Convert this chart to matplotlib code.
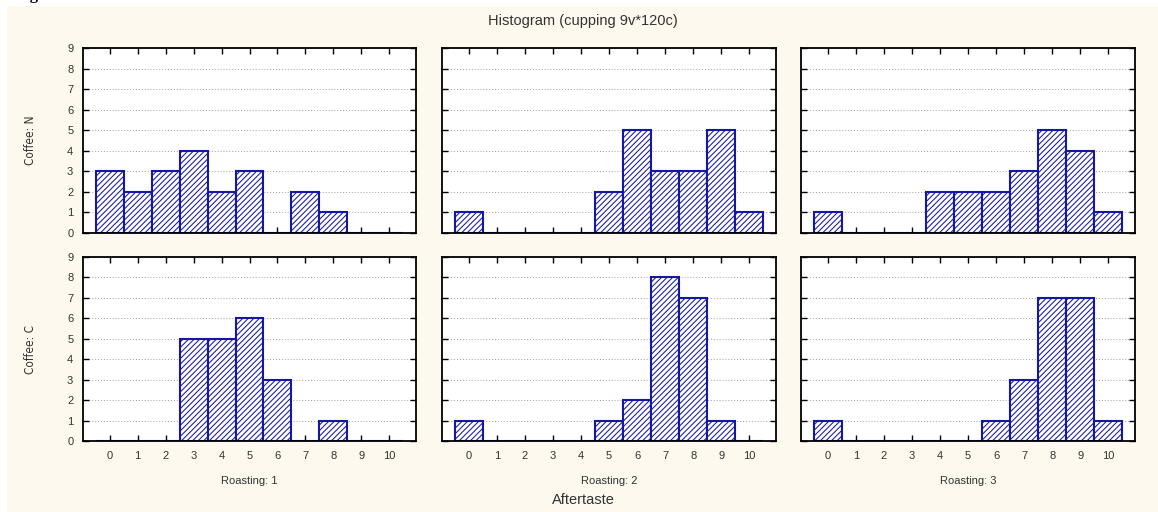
import matplotlib
matplotlib.use("Agg")
import matplotlib.pyplot as plt
from matplotlib import font_manager
from matplotlib.patches import Rectangle

# Aftertaste scores 0..10, counts per (coffee, roasting) cell
scores = list(range(11))
coffee_labels = ["Coffee: N", "Coffee: C"]
roasting_labels = ["Roasting: 1", "Roasting: 2", "Roasting: 3"]

n_roast1 = [3, 2, 3, 4, 2, 3, 0, 2, 1, 0, 0]
n_roast2 = [1, 0, 0, 0, 0, 2, 5, 3, 3, 5, 1]
n_roast3 = [1, 0, 0, 0, 2, 2, 2, 3, 5, 4, 1]
c_roast1 = [0, 0, 0, 5, 5, 6, 3, 0, 1, 0, 0]
c_roast2 = [1, 0, 0, 0, 0, 1, 2, 8, 7, 1, 0]
c_roast3 = [1, 0, 0, 0, 0, 0, 1, 3, 7, 7, 1]

counts = [[n_roast1, n_roast2, n_roast3], [c_roast1, c_roast2, c_roast3]]
y_ticks = list(range(10))

W, H = 1158, 512
BLUE = "#1616a4"
CREAM = "#fdf9ee"
TEXT = "#333333"

installed = {f.name for f in font_manager.fontManager.ttflist}
narrow = "Liberation Sans Narrow" if "Liberation Sans Narrow" in installed else "DejaVu Sans"

plt.rcParams["font.family"] = ["Liberation Sans", "DejaVu Sans"]
plt.rcParams["hatch.linewidth"] = 0.75
plt.rcParams["hatch.color"] = BLUE

fig = plt.figure(figsize=(W / 100, H / 100), dpi=100, facecolor="white")
fig.patches.append(Rectangle((7 / W, 0), 1 - 7 / W, 1 - 6 / H, transform=fig.transFigure,
                             facecolor=CREAM, edgecolor="none", zorder=-5))
# caption of the page, cut off at the top edge: only descenders show
fig.text(15 / W, 1 + 1 / H, "Figure 6: Aftertaste", family="Liberation Serif", weight="bold",
         fontsize=12, va="baseline", ha="left", color="black")


def box(x0, x1, y0, y1):
    return [x0 / W, 1 - y1 / H, (x1 - x0) / W, (y1 - y0) / H]


cols = [(83, 416), (442, 776), (801, 1135)]
rows = [(48, 233), (257, 441)]

for r, (y0, y1) in enumerate(rows):
    for c, (x0, x1) in enumerate(cols):
        ax = fig.add_axes(box(x0, x1, y0, y1))
        ax.set_facecolor("white")
        ax.bar(scores, counts[r][c], width=1.0, facecolor="white", edgecolor=BLUE,
               linewidth=1.5, hatch="//////", zorder=3)
        ax.set_xlim(-0.95, 10.95)
        ax.set_ylim(0, 9)
        ax.set_xticks(scores)
        ax.set_yticks(y_ticks)
        ax.yaxis.grid(True, linestyle=(0, (1, 2)), color="#a0a0a0", linewidth=0.7, zorder=1)
        ax.tick_params(direction="in", length=4, width=1, top=True, right=True,
                       colors="black", labelcolor=TEXT, labelsize=8)
        ax.tick_params(axis="y", pad=7)
        ax.tick_params(axis="x", pad=7)
        for s in ax.spines.values():
            s.set_linewidth(1.3)
            s.set_zorder(4)
        if r == 0:
            ax.set_xticklabels([])
        else:
            ax.set_xticklabels([str(s) for s in scores])
            fig.text((x0 + x1) / 2 / W, 1 - 481 / H, roasting_labels[c], ha="center", va="center",
                     fontsize=8, color=TEXT)
        if c > 0:
            ax.set_yticklabels([])
        else:
            ax.set_yticklabels([str(v) for v in y_ticks])
            fig.text(31 / W, 1 - (y0 + y1) / 2 / H, coffee_labels[r], rotation=90, ha="center",
                     va="center", fontsize=8.5, family=narrow, stretch="condensed", color=TEXT)

fig.text(583 / W, 1 - 21 / H, "Histogram (cupping 9v*120c)", ha="center", va="center",
         fontsize=10.5, color=TEXT)
fig.text(583 / W, 1 - 500 / H, "Aftertaste", ha="center", va="center", fontsize=10.5, color=TEXT)

fig.savefig("out.png", dpi=100, facecolor=fig.get_facecolor())
